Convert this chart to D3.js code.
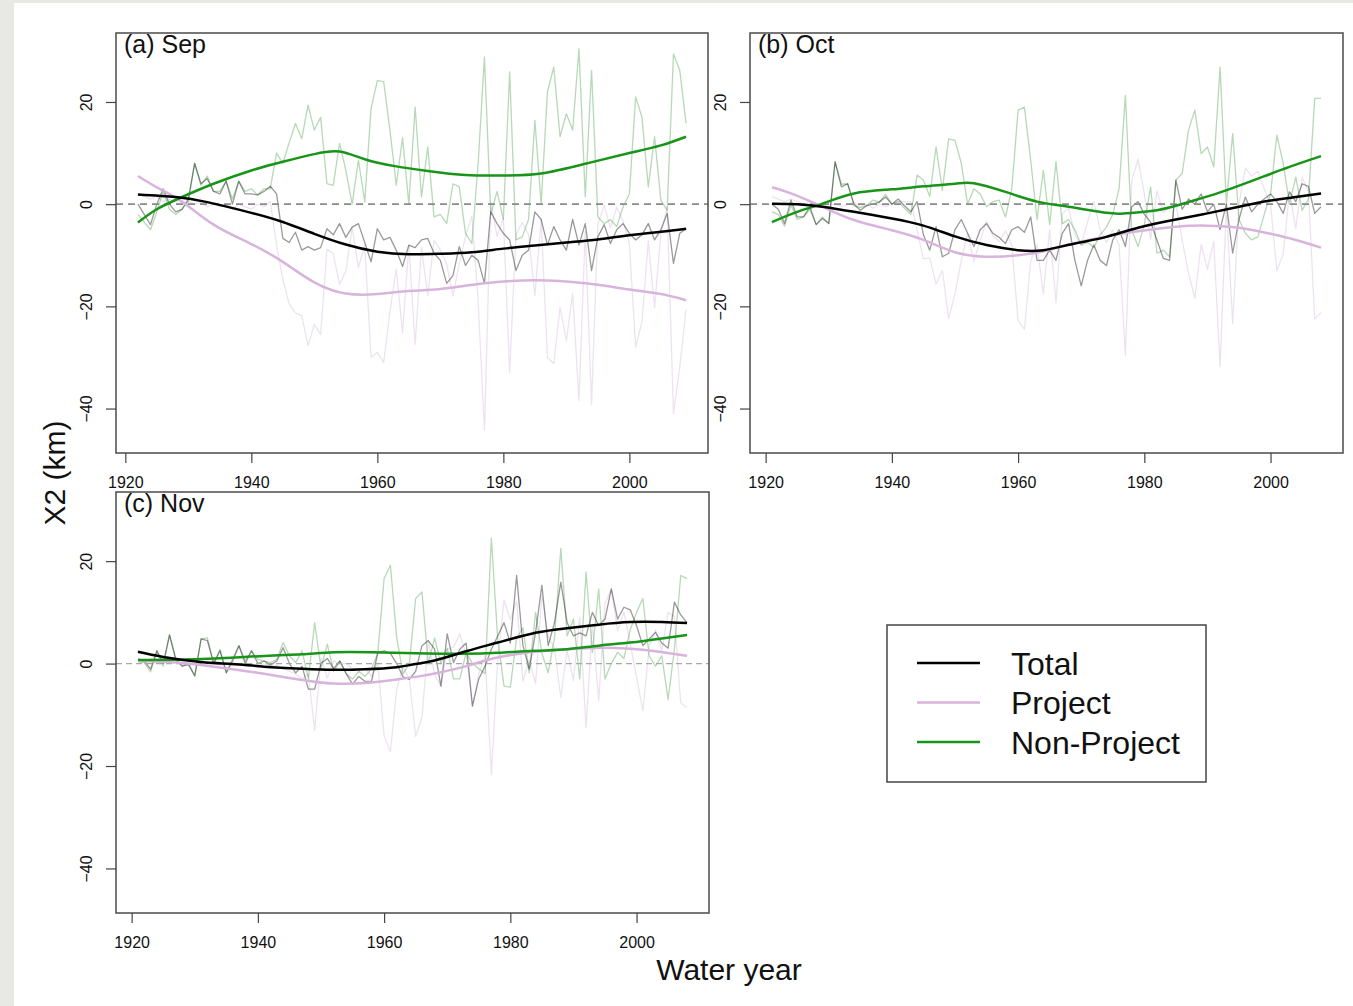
<!DOCTYPE html>
<html><head><meta charset="utf-8">
<script src="https://cdn.jsdelivr.net/npm/d3@7"></script>
<style>
html,body{margin:0;padding:0;background:#fff;}
svg{display:block;}
text{font-family:"Liberation Sans",Arial,Helvetica,sans-serif;fill:#111;}
</style></head><body>
<svg id="chart" width="1353" height="1006"></svg>
<script>
// ---------------- DATA ----------------
const sepYears = d3.range(1922, 2010);   // water years, panel (a)
const octYears = d3.range(1921, 2009);   // panel (b)
const novYears = d3.range(1921, 2009);   // panel (c)

const xTicks = [1920, 1940, 1960, 1980, 2000];
const yTicks = [20, 0, -20, -40];
const seriesNames = ["Total", "Project", "Non-Project"];

// (a) Sep
const sepTotal = [0,-2,-4,0,3,0,-1.5,-1,1,8,
  4,5,2.5,2,4.5,0,4.5,2,2,1.8,
  2.5,3.5,2,-6.7,-7.5,-5.5,-9,-8.3,-9,-8.5,
  -4.8,-6,-3.8,-6.5,-4.5,-3.8,-7.5,-11.3,-4.8,-7,
  -6.5,-9,-12.2,-8,-8.5,-7,-6.7,-9.6,-11,-15.5,
  -14,-8.3,-12,-10,-11,-15.5,-1.5,-3.8,-5.7,-7,
  -13,-10,-9,-1.5,-3,-8,-4.4,-7,-9,-3,
  -8,-3.8,-13,-6.4,-4,-7.7,-5,-3.8,-5.7,-7,
  -6,-3.8,-7,-5,-1.8,-11.6,-5.7,-4.8];
const sepProject = [2,1.5,1,1.5,0.5,1,0.5,0,0.5,0,
  0.3,-0.5,0,-0.5,0,-1,0,-0.5,-1,0,
  -0.5,0.5,-8,-14.7,-19.5,-21.3,-21.8,-27.7,-23.5,-25.5,
  -8.8,-9.7,-15.7,-13.1,-4.5,-12.4,-8,-30,-29,-31,
  -21,-12.7,-25.2,-8,-27.5,-8.4,-17.9,-7.1,-9,-11.7,
  -18,-11.7,-6.3,-2.3,-19,-44.3,0.5,-6.3,-2.7,-32.9,
  -6,-3.6,-6,-17.9,-3,-30,-31.2,-20.2,-26.7,-17.5,
  -38.4,-5.2,-39.2,-3.9,-0.2,-4.7,-0.6,-3.3,-7.7,-28,
  -23,-7.2,-20.2,-5.8,-0.6,-41,-31.9,-20.6];
const sepNonProject = [-2,-3.5,-5,-1.5,2.5,-1,-2,-1,0.5,8,
  3.7,5.5,2.5,2.5,4.5,1,4.5,2.5,3,1.8,
  3,3,10,8,12,15.8,12.8,19.4,14.5,17,
  4,3.7,11.9,6.6,0,8.6,0.5,18.7,24.2,24,
  14.5,3.7,13,0,19,1.4,11.2,-2.5,-2,-3.8,
  4,3.4,-5.7,-7.7,8,28.8,-2,2.5,-3,25.9,
  -7,-6.4,-3,16.4,0,22,26.8,13.2,17.7,14.5,
  30.4,1.4,26.2,-2.5,-3.8,-3,-4.4,-0.5,2,21,
  17,3.4,13.2,0.8,-1.2,29.4,26.2,15.8];
const sepTotalSmooth = [[1922,1.9],[1928,1.4],[1933,0.4],[1940,-1.7],[1945,-3.5],[1950,-5.8],[1955,-7.9],[1960,-9.3],[1965,-9.8],[1970,-9.7],[1975,-9.4],[1980,-8.7],[1985,-8.1],[1990,-7.5],[1995,-6.9],[2000,-6.1],[2005,-5.4],[2009,-4.8]];
const sepProjectSmooth = [[1922,5.5],[1925,3.3],[1929,0.5],[1934,-4],[1940,-7.8],[1945,-11.3],[1950,-15.3],[1955,-17.5],[1960,-17.6],[1965,-17],[1970,-16.6],[1977,-15.5],[1985,-14.9],[1993,-15.5],[2000,-16.7],[2005,-17.6],[2009,-18.8]];
const sepNonProjectSmooth = [[1922,-3.6],[1925,-1],[1929,1.4],[1934,4],[1940,6.6],[1945,8.3],[1950,9.8],[1954,10.3],[1958,8.8],[1963,7.4],[1968,6.5],[1974,5.7],[1980,5.6],[1986,6],[1993,7.9],[2000,10],[2005,11.5],[2009,13.2]];

// (b) Oct
const octTotal = [0,-1,-3.8,0.8,-2.5,-2.5,-0.5,-4,-2.8,-3.8,
  8.3,3.4,4,0,-1.2,-0.3,0,0.4,1.4,0,
  1,-0.3,-1.5,0.5,-6,-9,-4.4,-10.3,-9.6,-5,
  -3,-5.7,-8.3,-5,-3.8,-5.7,-6.5,-7.7,-5,-4.4,
  -5.5,-2.5,-11,-11,-9,-11,-5.7,-3.8,-11,-16,
  -11,-8,-11,-12,-7,-5,-8.3,-0.5,0.5,-2,
  -3.5,-7,-10.6,-11,4.7,-1,1,0,2,-1.5,
  0,-5,0,-9.6,-3,1.4,-1.5,0,1,2,
  0.5,-1.8,2.4,0.5,4,3.5,-1.8,-0.5];
const octProject = [1.5,1,0.5,1,0.5,0,0.5,0,-0.3,0,
  0,-0.5,0,0.3,-0.5,0,-0.8,0,-0.5,0,
  0.5,0.5,0.5,-5.2,-10.7,-10.5,-15.6,-13,-22.4,-17.5,
  -11,-5.7,-11.3,-7,-3.3,-6.2,-7.3,-5.2,-8,-22.8,
  -24.5,-11.1,-8,-17.6,-5,-19.3,-1.9,-0.8,-6,-8,
  -3.5,0.5,-5,-7.5,-5,-8,-29.6,4.5,8.8,2,
  -6.9,2.6,-1.6,-0.7,0,-7,-13.5,-18.4,-7.9,-12.7,
  -7.3,-31.8,0,-23.4,0,7.1,5.5,6.4,3,0,
  -13,-9.8,2.4,-4.8,5.2,2.5,-22.5,-21.2];
const octNonProject = [-1.5,-2,-4.3,-0.2,-3,-2.5,-1,-4,-2.5,-3.8,
  8.3,3.9,4,-0.3,-0.7,-0.3,0.8,0.4,1.9,0,
  0.5,-0.8,-2,5.7,4.7,1.5,11.2,2.7,12.8,12.5,
  8,0,3,2,-0.5,0.5,0.8,-2.5,3,18.4,
  19,8.6,-3,6.6,-4,8.3,-3.8,-3,-5,-8,
  -7.5,-8.5,-6,-4.5,-2,3,21.3,-5,-8.3,-4,
  3.4,-9.6,-9,-10.3,4.7,6,14.5,18.4,9.9,11.2,
  7.3,26.8,0,13.8,-3,-5.7,-7,-6.4,-2,2,
  13.5,8,0,5.3,-1.2,1,20.7,20.7];
const octTotalSmooth = [[1921,0.1],[1925,0],[1929,-0.5],[1934,-1.5],[1940,-2.8],[1945,-4.2],[1950,-6.3],[1955,-8],[1960,-9],[1964,-9],[1969,-7.7],[1974,-6.4],[1979,-4.6],[1985,-3],[1990,-1.8],[1995,-0.5],[2000,0.7],[2004,1.4],[2008,2.1]];
const octProjectSmooth = [[1921,3.3],[1924,2.1],[1929,-0.5],[1934,-3.1],[1940,-5.1],[1945,-7],[1950,-9.4],[1955,-10.3],[1960,-10],[1964,-9.2],[1968,-7.9],[1974,-6.3],[1979,-5.3],[1985,-4.4],[1990,-4.2],[1995,-4.6],[2000,-5.8],[2004,-7],[2008,-8.5]];
const octNonProjectSmooth = [[1921,-3.5],[1925,-1.5],[1929,0.1],[1934,2.1],[1940,2.9],[1945,3.5],[1950,4],[1953,4.1],[1958,2.4],[1963,0.5],[1968,-0.5],[1974,-1.7],[1977,-1.8],[1982,-1.2],[1987,0.4],[1992,2.3],[1998,5],[2003,7.3],[2008,9.4]];

// (c) Nov
const novTotal = [0.9,0.5,-1.1,2.5,0,5.6,0.9,-0.5,-0.2,-2.4,
  4.8,4.5,0,2.5,-1.8,0.5,3.5,0,2.5,0,
  0.5,-0.3,0.5,3.1,0,-1.8,-0.5,-5,-5,0,
  1,-1,0.5,-2,-4,-2.5,-3.5,-3.5,2.1,2.5,
  2,0,-2.6,-3.1,-1.5,3.5,4.5,2.8,-4.4,5.8,
  0.2,2.8,4,-8.3,-3,-0.5,2.8,5.4,8,4,
  17.2,3.5,-1.1,6.1,15.3,3.5,8,15.9,8,5.4,
  6,5.4,10,7.4,8.7,14.6,8.7,11,10.5,7.4,
  3.5,4.8,6.1,4,3,12,9.5,8];
const novProject = [0.5,0.3,0.5,0,0.5,0,0.3,0,-0.3,0,
  0,-0.5,0,-0.3,0,-0.5,0,-0.5,0,-0.8,
  0,-0.5,-0.3,-1,-1.5,-2,-3,-2,-13,1,
  -2.8,0.5,0,0,-1,-1,-1,-2.5,0.1,-14.1,
  -17.2,-5,-0.6,-3.1,-14.2,-10.5,4.5,-2.2,-4.4,2.8,
  3.2,5.8,1.8,-8.3,-2,1.5,-21.7,0.6,12.4,8.6,
  12.2,-3.5,0.7,-3.9,13.3,5.3,3,-6.6,2.6,-3.3,
  9,-12.5,7.8,-7.2,11.7,14.6,6.5,10,3.9,-2.6,
  -9.2,3.3,6.6,2.5,10,9.2,-7.7,-8.6];
const novNonProject = [0.4,0.2,-1.6,2.5,-0.5,5.6,0.6,-0.5,0.1,-2.4,
  4.8,5,0,2.8,-1.8,1,3.5,0.5,2.5,0.8,
  0.5,0.2,0.8,4.1,1.5,0.2,2.5,-3,8,-1,
  3.8,-1.5,0.5,-2,-3,-1.5,-2.5,-1,2,16.6,
  19.2,5,-2,0,12.7,14,0,5,0,3,
  -3,-3,2.2,0,-1,-2,24.5,4.8,-4.4,-4.6,
  5,7,-1.8,10,2,-1.8,5,22.5,5.4,8.7,
  -3,17.9,2.2,14.6,-3,0,2.2,1,6.6,10,
  12.7,1.5,-0.5,1.5,-7,2.8,17.2,16.6];
const novTotalSmooth = [[1921,2.3],[1925,1.3],[1931,0.3],[1936,-0.1],[1941,-0.6],[1947,-1],[1952,-1.2],[1957,-1.1],[1962,-0.7],[1965,-0.1],[1968,0.6],[1973,2.4],[1978,4.1],[1984,6],[1989,6.9],[1994,7.6],[1999,8.1],[2004,8.1],[2008,7.9]];
const novProjectSmooth = [[1921,0.5],[1926,0.3],[1931,-0.3],[1936,-1.1],[1941,-2],[1947,-3.2],[1952,-3.9],[1957,-3.8],[1962,-3.1],[1966,-2.4],[1969,-1.7],[1973,-0.5],[1978,1.2],[1984,2.3],[1989,2.8],[1994,3.1],[1999,2.9],[2003,2.4],[2008,1.5]];
const novNonProjectSmooth = [[1921,0.7],[1931,0.9],[1941,1.5],[1947,1.8],[1952,2.2],[1958,2.2],[1965,2],[1973,1.9],[1978,2.1],[1984,2.5],[1989,2.8],[1994,3.5],[1999,4.1],[2004,4.9],[2008,5.6]];

// ---------------- STYLE / LAYOUT ----------------
const colors = {
  totalRaw: "rgba(0,0,0,0.40)",
  projectRaw: "rgba(200,160,210,0.30)",
  nonRaw: "rgba(34,139,34,0.33)",
  total: "#000000",
  project: "#d8b4dc",
  non: "#189418"
};

const panels = [
  {title:"(a) Sep", years:sepYears, total:sepTotal, project:sepProject, non:sepNonProject,
   sTotal:sepTotalSmooth, sProject:sepProjectSmooth, sNon:sepNonProjectSmooth,
   box:{x:116,y:33,w:592,h:420}, xDomain:[1918.52,2012.48], zero:{w:1.7,c:"#8a8a8a",d:"7,5"}},
  {title:"(b) Oct", years:octYears, total:octTotal, project:octProject, non:octNonProject,
   sTotal:octTotalSmooth, sProject:octProjectSmooth, sNon:octNonProjectSmooth,
   box:{x:750,y:33,w:593,h:420}, xDomain:[1917.52,2011.48], zero:{w:1.7,c:"#8a8a8a",d:"7,5"}},
  {title:"(c) Nov", years:novYears, total:novTotal, project:novProject, non:novNonProject,
   sTotal:novTotalSmooth, sProject:novProjectSmooth, sNon:novNonProjectSmooth,
   box:{x:116,y:492,w:593,h:421}, xDomain:[1917.52,2011.48], zero:{w:1.1,c:"#a8a8a8",d:"6,4"}}
];
const yDomain = [-48.7, 33.5];

const svg = d3.select("#chart");
svg.append("rect").attr("x",0).attr("y",0).attr("width",1353).attr("height",1006).attr("fill","#ffffff");
svg.append("rect").attr("x",0).attr("y",0).attr("width",14).attr("height",1006).attr("fill","#e8e8e5");
svg.append("rect").attr("x",0).attr("y",0).attr("width",1353).attr("height",3).attr("fill","#e8e8e5");

panels.forEach(p => {
  const b = p.box;
  const x = d3.scaleLinear().domain(p.xDomain).range([b.x, b.x + b.w]);
  const y = d3.scaleLinear().domain(yDomain).range([b.y + b.h, b.y]);
  const g = svg.append("g");

  const rawLine = years => d3.line().x((d,i) => x(years[i])).y(d => y(d));
  const sLine = d3.line().x(d => x(d[0])).y(d => y(d[1])).curve(d3.curveNatural);

  const rl = rawLine(p.years);
  g.append("path").attr("d", rl(p.project)).attr("fill","none").attr("stroke",colors.projectRaw).attr("stroke-width",1.3).attr("stroke-linejoin","round");
  g.append("path").attr("d", rl(p.non)).attr("fill","none").attr("stroke",colors.nonRaw).attr("stroke-width",1.3).attr("stroke-linejoin","round");
  g.append("path").attr("d", rl(p.total)).attr("fill","none").attr("stroke",colors.totalRaw).attr("stroke-width",1.3).attr("stroke-linejoin","round");

  g.append("line").attr("x1",b.x).attr("x2",b.x+b.w).attr("y1",y(0)).attr("y2",y(0))
    .attr("stroke",p.zero.c).attr("stroke-width",p.zero.w).attr("stroke-dasharray",p.zero.d);

  g.append("path").attr("d", sLine(p.sProject)).attr("fill","none").attr("stroke",colors.project).attr("stroke-width",2.5);
  g.append("path").attr("d", sLine(p.sNon)).attr("fill","none").attr("stroke",colors.non).attr("stroke-width",2.5);
  g.append("path").attr("d", sLine(p.sTotal)).attr("fill","none").attr("stroke",colors.total).attr("stroke-width",2.5);

  g.append("rect").attr("x",b.x).attr("y",b.y).attr("width",b.w).attr("height",b.h)
    .attr("fill","none").attr("stroke","#555").attr("stroke-width",1.6);

  // x axis
  const xa = g.append("g").attr("transform",`translate(0,${b.y+b.h})`)
    .call(d3.axisBottom(x).tickValues(xTicks).tickFormat(d3.format("d")).tickSize(10).tickPadding(14).tickSizeOuter(0));
  xa.select(".domain").remove();
  xa.selectAll("line").attr("stroke","#444").attr("stroke-width",1.2);
  xa.selectAll("text").attr("font-size",16).attr("fill","#111").attr("font-family","Liberation Sans, Arial, sans-serif");

  // y axis
  const ya = g.append("g").attr("transform",`translate(${b.x},0)`)
    .call(d3.axisLeft(y).tickValues(yTicks).tickSize(10).tickSizeOuter(0));
  ya.select(".domain").remove();
  ya.selectAll("line").attr("stroke","#444").attr("stroke-width",1.2);
  ya.selectAll("text")
    .attr("x",null).attr("dy",null)
    .attr("text-anchor","middle")
    .attr("transform","translate(-24.5,0) rotate(-90)")
    .attr("font-size",16).attr("fill","#111").attr("font-family","Liberation Sans, Arial, sans-serif");

  g.append("text").attr("x",b.x+8).attr("y",b.y+20).attr("font-size",25).text(p.title);
});

// axis titles
svg.append("text").attr("transform","translate(65,473) rotate(-90)").attr("text-anchor","middle")
  .attr("font-size",30).text("X2 (km)");
svg.append("text").attr("x",729).attr("y",980).attr("text-anchor","middle")
  .attr("font-size",30).text("Water year");

// legend
const leg = svg.append("g");
leg.append("rect").attr("x",887).attr("y",625).attr("width",319).attr("height",157)
  .attr("fill","#fff").attr("stroke","#444").attr("stroke-width",1.5);
const legColors = [colors.total, colors.project, colors.non];
const legY = d3.scalePoint().domain(seriesNames).range([663, 742]);
seriesNames.forEach((n,i) => {
  leg.append("line").attr("x1",917).attr("x2",980).attr("y1",legY(n)).attr("y2",legY(n))
    .attr("stroke",legColors[i]).attr("stroke-width",2.5);
  leg.append("text").attr("x",1011).attr("y",legY(n)+11.5).attr("font-size",32).text(n);
});
</script>
</body></html>
